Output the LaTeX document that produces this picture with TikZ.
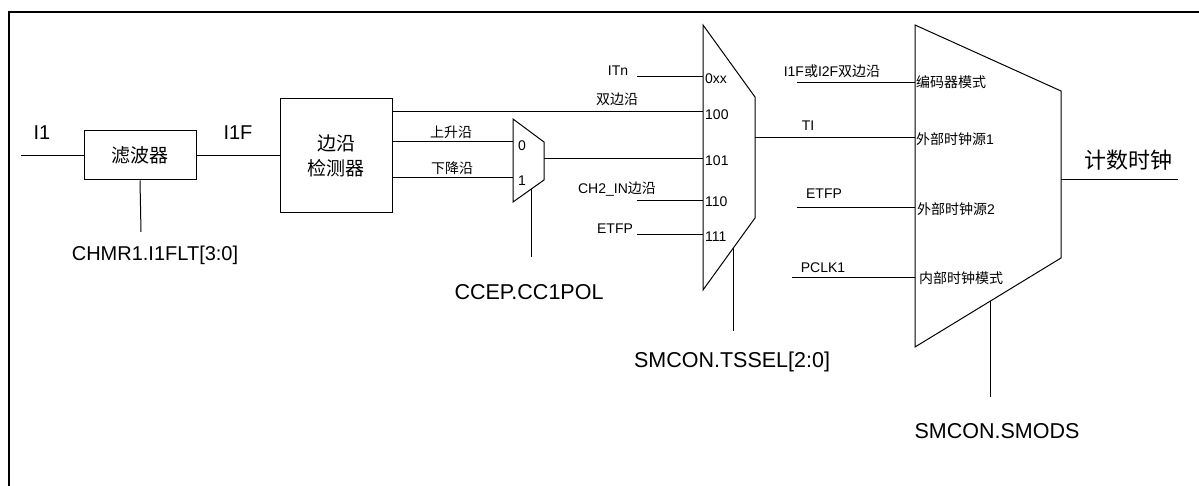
\documentclass[tikz,border=0pt]{standalone}
\usepackage{fontspec}
\setmainfont{Liberation Sans}
\newfontfamily\cjk{Noto Sans CJK SC}
\usetikzlibrary{positioning, calc}

\begin{document}
\begin{tikzpicture}[
  x=1pt, y=-1pt,
  wire/.style={line width=1pt},
  blk/.style={draw, line width=1pt, rectangle, inner sep=0pt, align=center, font=\cjk\fontsize{19}{25}\selectfont},
  lbl/.style={inner sep=0pt, font=\fontsize{14}{16}\selectfont},
  sig/.style={inner sep=0pt, font=\fontsize{20}{22}\selectfont},
  reg/.style={inner sep=0pt, font=\fontsize{21.5}{24}\selectfont}
]
  \useasboundingbox (0,0) rectangle (1199,486);

  % 0. Frame
  \draw[line width=2.5pt] (9,486) -- (9,12) -- (1199,12);

  % 1. Filter and edge detector
  \node[blk, minimum width=112pt, minimum height=49pt] (flt) at (140,155.5) {滤波器};
  \node[blk, minimum width=112pt, minimum height=114pt] (edge) at (336,155.5) {边沿\\检测器};

  \coordinate (in1) at (21,155.5);
  \coordinate (fltsel) at (141,232);
  \draw[wire] (in1) -- (flt.west);
  \draw[wire] (flt.east) -- (edge.west);
  \draw[wire] (flt.south) -- (fltsel);
  \node[sig] (lin1) at (42,133) {I1};
  \node[sig] (lflt) at (238,133) {I1F};
  \node[sig] (lchmr) at (155,255) {CHMR1.I1FLT[3:0]};

  % 2. Polarity mux
  \draw[wire] (513,119) -- (544,142) -- (544,180) -- (513,202) -- cycle;
  \coordinate (pol0) at (513,142);
  \coordinate (pol1) at (513,178);
  \coordinate (polout) at (544,159);
  \coordinate (polsel) at (531,189);
  \coordinate (polend) at (531,257);
  \draw[wire] (pol0 -| edge.east) -- (pol0);
  \draw[wire] (pol1 -| edge.east) -- (pol1);
  \draw[wire] (polsel) -- (polend);
  \node[lbl] (lp0) at (522,146) {0};
  \node[lbl] (lp1) at (522,181) {1};
  \node[lbl, font=\cjk\fontsize{14}{16}\selectfont] (lrise) at (451,132) {上升沿};
  \node[lbl, font=\cjk\fontsize{14}{16}\selectfont] (lfall) at (452,168) {下降沿};
  \node[reg] (lpol) at (529,292) {CCEP.CC1POL};

  % 3. Trigger select mux
  \draw[wire] (703,25) -- (755,97) -- (755,218) -- (703,290) -- cycle;
  \coordinate (m0) at (703,77);
  \coordinate (m4) at (703,112);
  \coordinate (m5) at (703,159);
  \coordinate (m6) at (703,201);
  \coordinate (m7) at (703,235);
  \coordinate (mout) at (755,138);
  \coordinate (msel) at (733,248.5);
  \coordinate (mend) at (733,331);
  \coordinate (itn) at (637,77);
  \coordinate (ch2) at (637,201);
  \coordinate (etf) at (637,235);
  \draw[wire] (itn) -- (m0);
  \draw[wire] (m4 -| edge.east) -- (m4);
  \draw[wire] (polout) -- (m5);
  \draw[wire] (ch2) -- (m6);
  \draw[wire] (etf) -- (m7);
  \draw[wire] (msel) -- (mend);
  \node[lbl, anchor=west] (lm0) at (705,79) {0xx};
  \node[lbl, anchor=west] (lm4) at (705,115) {100};
  \node[lbl, anchor=west] (lm5) at (705,161) {101};
  \node[lbl, anchor=west] (lm6) at (705,202) {110};
  \node[lbl, anchor=west] (lm7) at (705,237) {111};
  \node[lbl] (litn) at (618,71) {ITn};
  \node[lbl, font=\cjk\fontsize{14}{16}\selectfont] (lboth) at (617,99) {双边沿};
  \node[lbl] (lch2) at (617,189) {CH2\_IN{\cjk 边沿}};
  \node[lbl] (letf) at (615,229) {ETFP};
  \node[reg] (ltssel) at (732,362) {SMCON.TSSEL[2:0]};

  % 4. Slave mode mux
  \draw[wire] (915,25) -- (1061,91) -- (1061,258) -- (915,347) -- cycle;
  \coordinate (s0) at (915,83);
  \coordinate (s1) at (915,138);
  \coordinate (s2) at (915,208);
  \coordinate (s3) at (915,278);
  \coordinate (sout) at (1061,180);
  \coordinate (clk) at (1178,180);
  \coordinate (ssel) at (990,301);
  \coordinate (send) at (990,397);
  \coordinate (enc) at (797,83);
  \coordinate (etr) at (797,208);
  \coordinate (pclk) at (792,278);
  \draw[wire] (enc) -- (s0);
  \draw[wire] (mout) -- (s1);
  \draw[wire] (etr) -- (s2);
  \draw[wire] (pclk) -- (s3);
  \draw[wire] (sout) -- (clk);
  \draw[wire] (ssel) -- (send);
  \node[lbl] (lenc) at (832,71) {I1F{\cjk 或}I2F{\cjk 双边沿}};
  \node[lbl] (lti) at (808,126) {TI};
  \node[lbl] (letr) at (824,194) {ETFP};
  \node[lbl] (lpclk) at (823,268) {PCLK1};
  \node[lbl, anchor=west, font=\cjk\fontsize{14}{16}\selectfont] (ls0) at (916,82) {编码器模式};
  \node[lbl, anchor=west] (ls1) at (916,139) {{\cjk 外部时钟源}1};
  \node[lbl, anchor=west] (ls2) at (917,209) {{\cjk 外部时钟源}2};
  \node[lbl, anchor=west, font=\cjk\fontsize{14}{16}\selectfont] (ls3) at (919,278) {内部时钟模式};
  \node[reg, font=\cjk\fontsize{22}{24}\selectfont] (lclk) at (1128,160) {计数时钟};
  \node[reg] (lsmods) at (997,431) {SMCON.SMODS};

\end{tikzpicture}
\end{document}
